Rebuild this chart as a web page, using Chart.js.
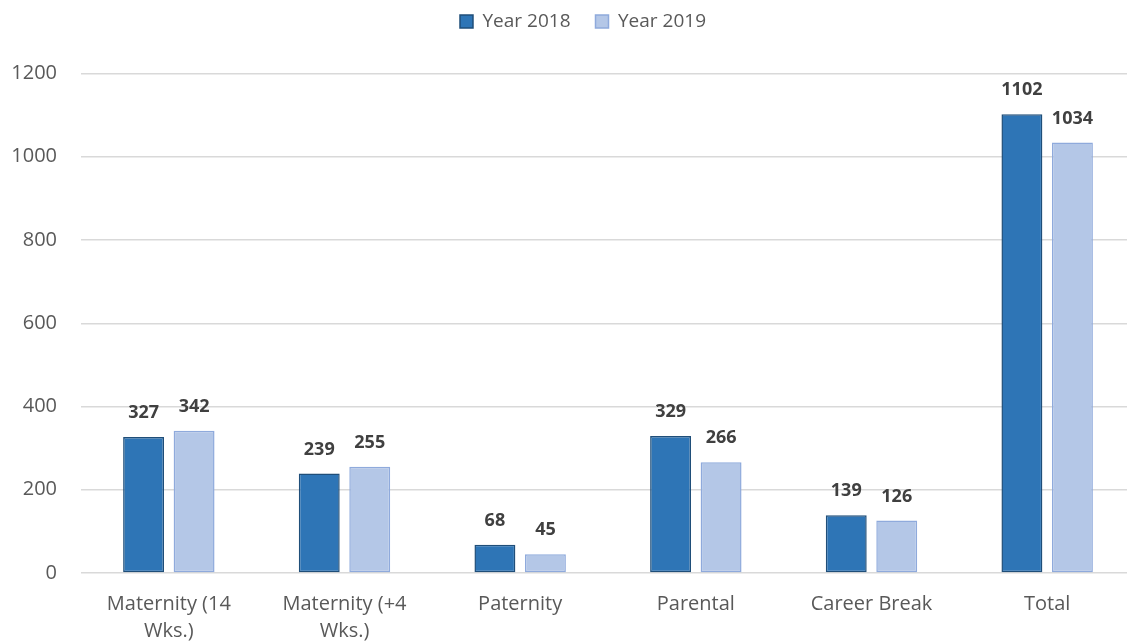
<!DOCTYPE html>
<html>
<head>
<meta charset="utf-8">
<script src="https://cdn.jsdelivr.net/npm/chart.js@4/dist/chart.umd.min.js"></script>
<style>
  html, body { margin: 0; padding: 0; background: #fff; overflow: hidden; }
  #wrap { width: 1166px; height: 643px; }
</style>
</head>
<body>
<div id="wrap"><canvas id="leaveChart"></canvas></div>
<script>
// leave types per year
const categories = [
    ['Maternity (14', 'Wks.)'],
    ['Maternity (+4', 'Wks.)'],
    'Paternity',
    'Parental',
    'Career Break',
    'Total'
];
const year2018 = [327, 239, 68, 329, 139, 1102];
const year2019 = [342, 255, 45, 266, 126, 1034];
const yTicks = [0, 200, 400, 600, 800, 1000, 1200];

const fontFamily = "'Open Sans', 'Liberation Sans', sans-serif";

// value labels above each bar
const barValues = {
    id: 'barValues',
    afterDatasetsDraw(chart) {
        let ctx = chart.ctx;
        ctx.save();
        ctx.font = 'bold 18px ' + fontFamily;
        ctx.fillStyle = '#404040';
        ctx.textAlign = 'center';
        ctx.textBaseline = 'middle';
        chart.data.datasets.forEach((ds, i) => {
            chart.getDatasetMeta(i).data.forEach((bar, j) => {
                ctx.fillText(ds.data[j], bar.x, bar.y - 24);
            });
        });
        ctx.restore();
    }
};

// more room under the legend, and nudge it right a little
const legendSpace = {
    id: 'legendSpace',
    beforeInit(chart) {
        const fit = chart.legend.fit;
        chart.legend.fit = function () {
            fit.bind(chart.legend)();
            this.height = 86.5;
        };
    },
    afterLayout(chart) {
        chart.legend.left += 10;
        chart.legend.right += 10;
    }
};

new Chart(document.getElementById('leaveChart').getContext('2d'), {
    type: 'bar',
    data: {
        labels: categories,
        datasets: [{
            label: 'Year 2018',
            data: year2018,
            backgroundColor: '#2E75B6',
            borderColor: '#1F4E79',
            borderWidth: 1.5,
            borderSkipped: false
        }, {
            label: 'Year 2019',
            data: year2019,
            backgroundColor: '#B4C7E7',
            borderColor: '#8FAADC',
            borderWidth: 1.5,
            borderSkipped: false
        }]
    },
    options: {
        responsive: true,
        maintainAspectRatio: false,
        animation: false,
        categoryPercentage: 0.575,
        barPercentage: 0.81,
        layout: {
            padding: { left: 11, right: 31, top: -13, bottom: -20 }
        },
        plugins: {
            legend: {
                display: true,
                position: 'top',
                labels: {
                    boxWidth: 13,
                    boxHeight: 13,
                    padding: 25,
                    color: '#595959',
                    font: { family: fontFamily, size: 19 }
                }
            },
            tooltip: { enabled: false }
        },
        scales: {
            x: {
                grid: { display: false, drawTicks: false },
                border: { display: false },
                ticks: {
                    color: '#595959',
                    padding: 18,
                    maxRotation: 0,
                    autoSkip: false,
                    font: { family: fontFamily, size: 20, lineHeight: 1.35 }
                }
            },
            y: {
                min: 0,
                max: 1200,
                afterBuildTicks: axis => { axis.ticks = yTicks.map(v => ({ value: v })); },
                afterFit: axis => { axis.width = 70; },
                grid: { color: '#D9D9D9', lineWidth: 1.5, drawTicks: false },
                border: { display: false },
                ticks: {
                    color: '#595959',
                    padding: 24,
                    callback: v => String(v),
                    font: { family: fontFamily, size: 20 }
                }
            }
        }
    },
    plugins: [barValues, legendSpace]
});
</script>
</body>
</html>
